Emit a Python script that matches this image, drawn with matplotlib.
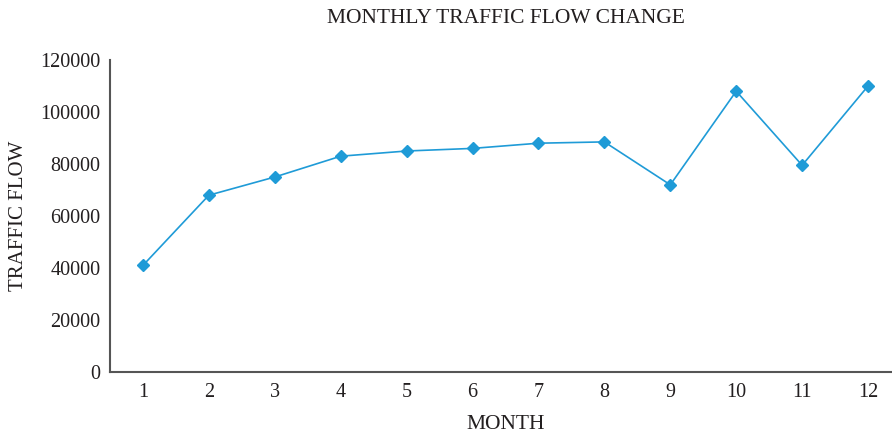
import matplotlib
matplotlib.use('Agg')
import matplotlib.pyplot as plt

# monthly traffic values
months = [1, 2, 3, 4, 5, 6, 7, 8, 9, 10, 11, 12]
traffic = [41000, 68000, 75000, 83000, 85000, 86000, 88000, 88500, 72000, 108000, 79500, 110000]
yticks = [0, 20000, 40000, 60000, 80000, 100000, 120000]

plt.rcParams['font.family'] = ['Liberation Serif', 'DejaVu Serif']

fig = plt.figure(figsize=(8.92, 4.34), dpi=100)
ax = fig.add_axes([110 / 892, 62 / 434, 791 / 892, 312 / 434])

ax.plot(months, traffic, color='#1f9bd7', linewidth=1.2,
        marker='D', markersize=6, markerfacecolor='#1f9bd7', markeredgecolor='#1f9bd7')

ax.set_xlim(0.5, 12.5)
ax.set_ylim(0, 120000)
ax.set_xticks(months)
ax.set_yticks(yticks)
ax.tick_params(length=0, labelsize=14.5, colors='#231f20', pad=8)
ax.tick_params(axis='y', pad=7)

for side in ['top', 'right']:
    ax.spines[side].set_visible(False)
for side in ['left', 'bottom']:
    ax.spines[side].set_color('#555555')
    ax.spines[side].set_linewidth(1.5)

ax.set_title('MONTHLY TRAFFIC FLOW CHANGE', fontsize=15.5, color='#231f20', pad=27)
ax.set_xlabel('MONTH', fontsize=15.5, color='#231f20', labelpad=9)
ax.set_ylabel('TRAFFIC FLOW', fontsize=15, color='#231f20', labelpad=9)

fig.savefig('out.png', dpi=100)
